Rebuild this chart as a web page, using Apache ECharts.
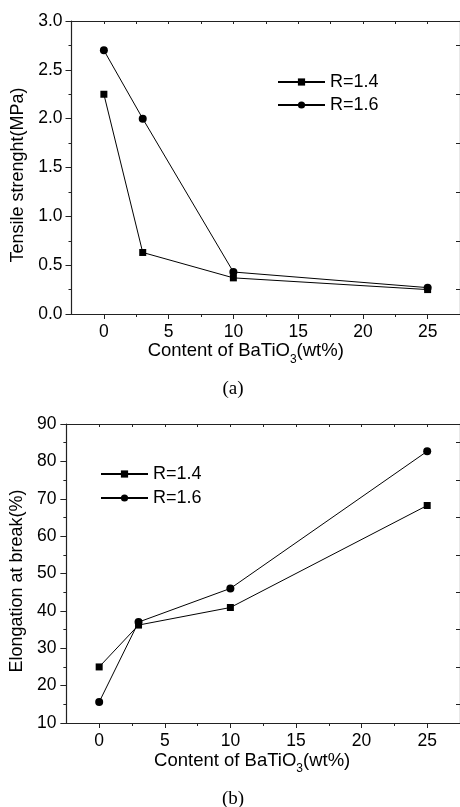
<!DOCTYPE html>
<html>
<head>
<meta charset="utf-8">
<script src="https://cdn.jsdelivr.net/npm/echarts@6/dist/echarts.min.js"></script>
<style>
  html, body { margin: 0; padding: 0; background: #fff; }
  #chart { width: 460px; height: 807px; }
</style>
</head>
<body>
<div id="chart"></div>
<script>
// 数据
var content = [0, 3, 10, 25];
var seriesNames = ['R=1.4', 'R=1.6'];
var tensileR14 = [2.25, 0.63, 0.37, 0.25];
var tensileR16 = [2.70, 2.00, 0.43, 0.27];
var elongR14 = [25.0, 36.2, 40.9, 68.2];
var elongR16 = [15.6, 37.0, 46.0, 82.7];
var xMajorTicks = [0, 5, 10, 15, 20, 25];
var xMinorTicks = [2.5, 7.5, 12.5, 17.5, 22.5];
var xTopTicks = [0, 2.5, 5, 7.5, 10, 12.5, 15, 17.5, 20, 22.5, 25];
var tensileRightTicks = [0.25, 0.75, 1.25, 1.75, 2.25, 2.75];
var elongRightTicks = [15, 25, 35, 45, 55, 65, 75, 85];

var FONT = 'Liberation Sans, Arial, sans-serif';
var AXIS_COLOR = '#222';

function pairs(xs, ys) {
  return xs.map(function (x, i) { return [x, ys[i]]; });
}

// x轴: 主刻度(带标签) + 次刻度 + 顶部刻度
function xAxes(gridIndex, nameGap, namePad) {
  return [
    {
      gridIndex: gridIndex, type: 'value', position: 'bottom',
      min: -2.5, max: 27.5, interval: 2.5,
      name: '{m|Content of BaTiO}{s|3}{m|(wt%)}',
      nameLocation: 'middle', nameGap: nameGap,
      nameTextStyle: {
        padding: [0, namePad, 0, 0],
        rich: {
          m: { fontFamily: FONT, fontSize: 18.5, color: '#000', lineHeight: 24, verticalAlign: 'top' },
          s: { fontFamily: FONT, fontSize: 12, color: '#000', lineHeight: 24, verticalAlign: 'bottom' }
        }
      },
      axisLine: { show: true, onZero: false, lineStyle: { color: AXIS_COLOR, width: 1.2 } },
      axisTick: { show: true, inside: false, length: 5, customValues: xMajorTicks, lineStyle: { color: AXIS_COLOR } },
      axisLabel: { customValues: xMajorTicks, margin: 9, fontFamily: FONT, fontSize: 17.5, color: '#000' },
      splitLine: { show: false }
    },
    {
      gridIndex: gridIndex, type: 'value', position: 'bottom',
      min: -2.5, max: 27.5, interval: 2.5,
      axisLine: { show: false, onZero: false },
      axisTick: { show: true, inside: false, length: 3, customValues: xMinorTicks, lineStyle: { color: AXIS_COLOR } },
      axisLabel: { show: false },
      splitLine: { show: false }
    },
    {
      gridIndex: gridIndex, type: 'value', position: 'top',
      min: -2.5, max: 27.5, interval: 2.5,
      axisLine: { show: true, onZero: false, lineStyle: { color: AXIS_COLOR, width: 1.2 } },
      axisTick: { show: true, inside: true, length: 3, customValues: xTopTicks, lineStyle: { color: AXIS_COLOR } },
      axisLabel: { show: false },
      splitLine: { show: false }
    }
  ];
}

function yAxes(gridIndex, min, max, interval, name, nameGap, margin, digits, rightTicks) {
  return [
    {
      gridIndex: gridIndex, type: 'value', position: 'left',
      min: min, max: max, interval: interval,
      name: name, nameLocation: 'middle', nameGap: nameGap,
      nameTextStyle: { fontFamily: FONT, fontSize: 18, color: '#000', padding: [0, 15, 0, 0] },
      axisLine: { show: true, onZero: false, lineStyle: { color: AXIS_COLOR, width: 1.2 } },
      axisTick: { show: true, inside: false, length: 6, lineStyle: { color: AXIS_COLOR } },
      minorTick: { show: true, splitNumber: 2, length: 3, lineStyle: { color: AXIS_COLOR } },
      axisLabel: {
        margin: margin, fontFamily: FONT, fontSize: 17.5, color: '#000',
        formatter: function (v) { return v.toFixed(digits); }
      },
      splitLine: { show: false }
    },
    {
      gridIndex: gridIndex, type: 'value', position: 'right',
      min: min, max: max, interval: interval,
      axisLine: { show: true, onZero: false, lineStyle: { color: AXIS_COLOR, width: 1.2 } },
      axisTick: { show: true, inside: true, length: 4, customValues: rightTicks, lineStyle: { color: AXIS_COLOR } },
      axisLabel: { show: false },
      splitLine: { show: false }
    }
  ];
}

function lineSeries(name, symbol, size, xIdx, yIdx, data) {
  return {
    name: name, type: 'line',
    xAxisIndex: xIdx, yAxisIndex: yIdx,
    data: data,
    symbol: symbol, symbolSize: size,
    showSymbol: true,
    lineStyle: { color: '#000', width: 1 },
    itemStyle: { color: '#000' },
    z: 3
  };
}

function legendAt(left, top, gap) {
  return {
    data: seriesNames,
    orient: 'vertical',
    left: left, top: top,
    padding: 0,
    itemWidth: 47, itemHeight: 9, itemGap: gap,
    selectedMode: false,
    textStyle: { fontFamily: FONT, fontSize: 18, color: '#000', lineHeight: 18, padding: [0, 0, 0, 0] }
  };
}

var chart = echarts.init(document.getElementById('chart'));

var option = {
  animation: false,
  backgroundColor: '#fff',
  title: [
    { text: '(a)', left: 233, top: 380, padding: 0, textAlign: 'center',
      textStyle: { fontFamily: 'Liberation Serif, Times New Roman, serif', fontSize: 19, fontWeight: 'normal', color: '#000' } },
    { text: '(b)', left: 233, top: 790, padding: 0, textAlign: 'center',
      textStyle: { fontFamily: 'Liberation Serif, Times New Roman, serif', fontSize: 19, fontWeight: 'normal', color: '#000' } }
  ],
  legend: [legendAt(277, 73, 5), legendAt(100, 465, 6)],
  grid: [
    { left: 71.5, top: 21, width: 389, height: 293 },
    { left: 64.5, top: 424, width: 397.5, height: 299 }
  ],
  xAxis: xAxes(0, 24, 40).concat(xAxes(1, 28, 22)),
  yAxis: yAxes(0, 0, 3, 0.5, 'Tensile strenght(MPa)', 37, 9, 1, tensileRightTicks)
    .concat(yAxes(1, 10, 90, 10, 'Elongation at break(%)', 38, 10, 0, elongRightTicks)),
  series: [
    lineSeries(seriesNames[0], 'rect', 7, 0, 0, pairs(content, tensileR14)),
    lineSeries(seriesNames[1], 'circle', 8, 0, 0, pairs(content, tensileR16)),
    lineSeries(seriesNames[0], 'rect', 7, 3, 2, pairs(content, elongR14)),
    lineSeries(seriesNames[1], 'circle', 8, 3, 2, pairs(content, elongR16))
  ]
};

chart.setOption(option);
</script>
</body>
</html>
